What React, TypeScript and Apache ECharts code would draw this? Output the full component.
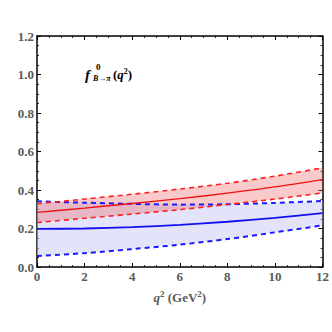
import React, { useEffect, useRef } from "react";
import * as echarts from "echarts";

const q2 = [0, 2, 4, 6, 8, 10, 12];
const blueCentral = [0.198, 0.2, 0.207, 0.219, 0.235, 0.255, 0.28];
const blueUpper = [0.341, 0.334, 0.328, 0.324, 0.326, 0.333, 0.343];
const blueLower = [0.057, 0.072, 0.093, 0.116, 0.145, 0.18, 0.216];
const redCentral = [0.284, 0.306, 0.33, 0.355, 0.384, 0.416, 0.454];
const redUpper = [0.329, 0.353, 0.378, 0.405, 0.435, 0.472, 0.515];
const redLower = [0.231, 0.253, 0.275, 0.298, 0.325, 0.353, 0.385];

const pairs = (ys: number[]) => q2.map((x, i) => [x, ys[i]]);

const FONT = "Liberation Serif";
const LABEL_COLOR = "#5a5a5a";

export default function App() {
  const ref = useRef<HTMLDivElement>(null);
  useEffect(() => {
    if (!ref.current) return;
    const chart = echarts.init(ref.current, undefined, { renderer: "svg" });
    const axisCommon = {
      axisLine: { show: true, onZero: false, lineStyle: { color: "#000", width: 1.5 } },
      axisTick: { show: true, inside: true, length: 4, lineStyle: { color: "#000", width: 1 } },
      minorTick: { show: true, splitNumber: 4, length: 2, lineStyle: { color: "#000", width: 0.8 } },
      splitLine: { show: false },
    };
    const line = (name: string, data: number[], color: string, dashed: boolean, width: number) => ({
      type: "line",
      name,
      data: pairs(data),
      smooth: 0.3,
      showSymbol: false,
      symbol: "none",
      z: dashed ? 4 : 5,
      lineStyle: { color, width, type: dashed ? [5, 4] : "solid" },
    });
    const band = (name: string, lo: number[], hi: number[], color: string, z: number) => ({
      type: "custom",
      name,
      z,
      data: [[0]],
      renderItem: (_params: any, api: any) => {
        const top = q2.map((x, i) => api.coord([x, hi[i]]));
        const bottom = q2.map((x, i) => api.coord([x, lo[i]])).reverse();
        return {
          type: "polygon",
          shape: { points: top.concat(bottom), smooth: 0 },
          style: { fill: color, stroke: "none" },
        };
      },
    });
    chart.setOption({
      animation: false,
      backgroundColor: "#fff",
      grid: { left: 37, right: 9, top: 36, bottom: 65 },
      xAxis: [
        {
          type: "value",
          min: 0,
          max: 12,
          interval: 2,
          ...axisCommon,
          axisLabel: {
            color: LABEL_COLOR,
            fontFamily: FONT,
            fontWeight: "bold",
            fontSize: 13,
            margin: 3,
          },
          name: "{i|q}{s|2} {n|(GeV}{s|2}{n|)}",
          nameLocation: "middle",
          nameGap: 22,
          nameTextStyle: {
            rich: {
              i: { fontFamily: FONT, fontStyle: "italic", fontWeight: "bold", fontSize: 13, color: LABEL_COLOR },
              n: { fontFamily: FONT, fontWeight: "bold", fontSize: 13, color: LABEL_COLOR },
              s: { fontFamily: FONT, fontWeight: "bold", fontSize: 9, color: LABEL_COLOR, padding: [0, 0, 7, 0] },
            },
          },
        },
        {
          type: "value",
          position: "top",
          min: 0,
          max: 12,
          interval: 2,
          ...axisCommon,
          axisLabel: { show: false },
        },
      ],
      yAxis: [
        {
          type: "value",
          min: 0,
          max: 1.2,
          interval: 0.2,
          ...axisCommon,
          axisLabel: {
            color: LABEL_COLOR,
            fontFamily: FONT,
            fontWeight: "bold",
            fontSize: 13,
            margin: 3,
            formatter: (v: number) => v.toFixed(1),
          },
        },
        {
          type: "value",
          position: "right",
          min: 0,
          max: 1.2,
          interval: 0.2,
          ...axisCommon,
          axisLabel: { show: false },
        },
      ],
      series: [
        band("blueBand", blueLower, blueUpper, "rgba(200,200,245,0.5)", 1),
        band("redBand", redLower, redUpper, "rgba(240,100,100,0.35)", 2),
        line("blueUpper", blueUpper, "#1a1aff", true, 2),
        line("blueLower", blueLower, "#1a1aff", true, 2),
        line("redUpper", redUpper, "#ff2020", true, 1.6),
        line("redLower", redLower, "#ff2020", true, 1.6),
        line("blueCentral", blueCentral, "#1010f0", false, 1.8),
        line("redCentral", redCentral, "#ee1010", false, 1.4),
      ],
      graphic: [
        {
          type: "text",
          x: 85,
          y: 67,
          style: {
            text: "f",
            font: `italic bold 15px "${FONT}"`,
            fill: "#000",
          },
        },
        {
          type: "text",
          x: 96,
          y: 62,
          style: {
            text: "0",
            font: `bold 9px "${FONT}"`,
            fill: "#000",
          },
        },
        {
          type: "text",
          x: 93,
          y: 74,
          style: {
            text: "B→π",
            font: `italic bold 8px "${FONT}"`,
            fill: "#000",
          },
        },
        {
          type: "text",
          x: 113,
          y: 67,
          style: {
            text: "({q|q}{s|2})",
            font: `bold 13px "${FONT}"`,
            fill: "#000",
            rich: {
              q: { fontFamily: FONT, fontStyle: "italic", fontWeight: "bold", fontSize: 13, fill: "#000" },
              s: { fontFamily: FONT, fontWeight: "bold", fontSize: 8, fill: "#000", padding: [0, 0, 7, 0] },
            },
          },
        },
      ],
    });
    return () => chart.dispose();
  }, []);
  return (
    <div
      ref={ref}
      style={{ position: "absolute", left: 0, top: 0, width: 332, height: 332, background: "#fff" }}
    />
  );
}
